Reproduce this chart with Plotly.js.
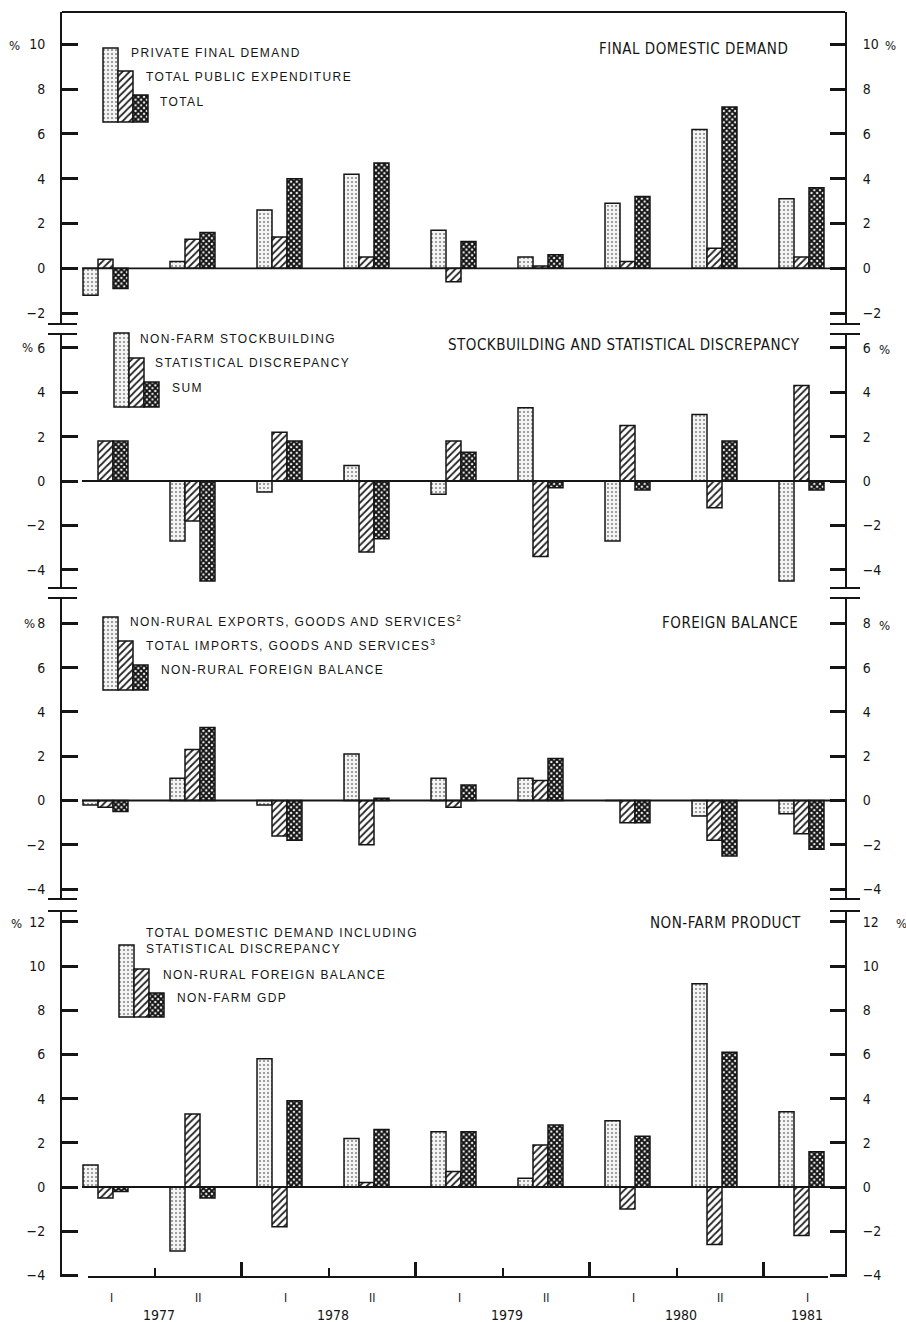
<!DOCTYPE html>
<html>
<head>
<meta charset="utf-8">
<script src="https://cdn.plot.ly/plotly-3.0.1.min.js"></script>
<style>
  html, body { margin: 0; padding: 0; background: #fff; }
  #chart { width: 906px; height: 1322px; }
</style>
</head>
<body>
<div id="chart"></div>
<script>
// ---------------- DATA ----------------
const halfLabels = ["I", "II", "I", "II", "I", "II", "I", "II", "I"];
const yearLabels = ["1977", "1978", "1979", "1980", "1981"];

const panelTitles = [
  "FINAL DOMESTIC DEMAND",
  "STOCKBUILDING AND STATISTICAL DISCREPANCY",
  "FOREIGN BALANCE",
  "NON-FARM PRODUCT"
];

// Panel 1: Final domestic demand
const p1Names = ["PRIVATE FINAL DEMAND", "TOTAL PUBLIC EXPENDITURE", "TOTAL"];
const privateFinalDemand     = [-1.2, 0.3, 2.6, 4.2, 1.7, 0.5, 2.9, 6.2, 3.1];
const totalPublicExpenditure = [0.4, 1.3, 1.4, 0.5, -0.6, 0.1, 0.3, 0.9, 0.5];
const totalFinalDemand       = [-0.9, 1.6, 4.0, 4.7, 1.2, 0.6, 3.2, 7.2, 3.6];

// Panel 2: Stockbuilding and statistical discrepancy
const p2Names = ["NON-FARM STOCKBUILDING", "STATISTICAL DISCREPANCY", "SUM"];
const nonFarmStockbuilding   = [0, -2.7, -0.5, 0.7, -0.6, 3.3, -2.7, 3.0, -4.5];
const statisticalDiscrepancy = [1.8, -1.8, 2.2, -3.2, 1.8, -3.4, 2.5, -1.2, 4.3];
const stockSum               = [1.8, -4.5, 1.8, -2.6, 1.3, -0.3, -0.4, 1.8, -0.4];

// Panel 3: Foreign balance
const p3Names = ["NON-RURAL EXPORTS, GOODS AND SERVICES<sup>2</sup>",
                 "TOTAL IMPORTS, GOODS AND SERVICES<sup>3</sup>",
                 "NON-RURAL FOREIGN BALANCE"];
const nonRuralExports        = [-0.2, 1.0, -0.2, 2.1, 1.0, 1.0, 0, -0.7, -0.6];
const totalImports           = [-0.3, 2.3, -1.6, -2.0, -0.3, 0.9, -1.0, -1.8, -1.5];
const nonRuralForeignBalance = [-0.5, 3.3, -1.8, 0.1, 0.7, 1.9, -1.0, -2.5, -2.2];

// Panel 4: Non-farm product
const p4Names = ["TOTAL DOMESTIC DEMAND INCLUDING<br>STATISTICAL DISCREPANCY",
                 "NON-RURAL FOREIGN BALANCE", "NON-FARM GDP"];
const totalDomesticDemand    = [1.0, -2.9, 5.8, 2.2, 2.5, 0.4, 3.0, 9.2, 3.4];
const foreignBalanceNFP      = [-0.5, 3.3, -1.8, 0.2, 0.7, 1.9, -1.0, -2.6, -2.2];
const nonFarmGDP             = [-0.2, -0.5, 3.9, 2.6, 2.5, 2.8, 2.3, 6.1, 1.6];

// ---------------- LAYOUT GEOMETRY (pixels) ----------------
const W = 906, H = 1322;
const M = { l: 62, r: 61, t: 12, b: 45 };
const PW = W - M.l - M.r;          // 783
const PH = H - M.t - M.b;          // 1265
const BOTTOM = H - M.b;            // 1277
const pxX = x => (x - M.l) / PW;   // pixel -> paper
const pxY = y => (BOTTOM - y) / PH;

const panelGeom = [
  { top: 12,  bottom: 324,  zero: 268.3, unit: 22.4  },
  { top: 334, bottom: 588,  zero: 481,   unit: 22.2  },
  { top: 598, bottom: 899,  zero: 800.5, unit: 22.15 },
  { top: 911, bottom: 1277, zero: 1187,  unit: 22.1  }
];
const titlePos = [[790, 49], [802, 345], [800, 623], [803, 923]];
const pctLeft  = [[14, 46], [27, 347], [29, 623], [16, 923]];
const pctRight = [[890, 46], [884, 349], [884, 625], [901, 923]];
const swatchPos = [ // left x, tops of three swatches, bottom
  { x: 103, tops: [48, 71, 95],     bottom: 122 },
  { x: 114, tops: [333, 358, 382],  bottom: 407 },
  { x: 103, tops: [617, 641, 665],  bottom: 690 },
  { x: 119, tops: [945, 969, 993],  bottom: 1017 }
];
const legendTextPos = [
  [[129, 53], [144, 77], [158, 102]],
  [[138, 339], [153, 363], [170, 388]],
  [[128, 621], [144, 645], [159, 670]],
  [[144, 941], [161, 975], [175, 998]]
];
const SW = 15;

const panels = [
  { names: p1Names, series: [privateFinalDemand, totalPublicExpenditure, totalFinalDemand] },
  { names: p2Names, series: [nonFarmStockbuilding, statisticalDiscrepancy, stockSum] },
  { names: p3Names, series: [nonRuralExports, totalImports, nonRuralForeignBalance] },
  { names: p4Names, series: [totalDomesticDemand, foreignBalanceNFP, nonFarmGDP] }
];

// ---------------- STYLES ----------------
const INK = "#151515";
const NARROW = "Liberation Sans Narrow, DejaVu Sans Condensed, Arial Narrow, sans-serif";
const SANS = "Liberation Sans, Arial, Helvetica, sans-serif";
const patterns = [
  { shape: ".", fgcolor: "#8a8a8a", bgcolor: "#f4f4f4", size: 4, solidity: 0.22, fillmode: "replace" },
  { shape: "/", fgcolor: "#222", bgcolor: "#fff", size: 5, solidity: 0.35, fillmode: "replace" },
  { shape: "x", fgcolor: "#111", bgcolor: "#fff", size: 4, solidity: 0.72, fillmode: "replace" }
];
const outline = { color: INK, width: 1.5 };

const xIdx = halfLabels.map((_, i) => i);
const traces = [];
const layout = {
  width: W, height: H,
  margin: M,
  paper_bgcolor: "#fff",
  plot_bgcolor: "rgba(0,0,0,0)",
  showlegend: false,
  barmode: "group",
  bargap: 0.483,
  bargroupgap: 0,
  hovermode: false,
  font: { family: NARROW, color: INK, size: 13 },
  annotations: [],
  shapes: []
};

const SHIFT = 0.065; // printed axis offset relative to bar groups

layout.xaxis = {
  domain: [0, 1], anchor: "y4", range: [-0.5, 8.5],
  showgrid: false, zeroline: false, showline: false,
  showticklabels: false,
  ticks: "inside", tickmode: "array",
  tickvals: yearLabels.slice(0, -1).map((_, k) => 2 * k + 1.5 + SHIFT),
  ticklen: 15, tickwidth: 3, tickcolor: INK,
  minor: {
    ticks: "inside", tickmode: "array",
    tickvals: yearLabels.slice(0, -1).map((_, k) => 2 * k + 0.5 + SHIFT),
    ticklen: 9, tickwidth: 2, tickcolor: INK, showgrid: false
  }
};

panels.forEach((p, k) => {
  const g = panelGeom[k];
  const range = [-(g.bottom - g.zero) / g.unit, (g.zero - g.top) / g.unit];
  const domain = [pxY(g.bottom), pxY(g.top)];
  const yl = k === 0 ? "yaxis" : "yaxis" + (k + 1);
  const yr = "yaxis" + (k + 5);
  const yref = k === 0 ? "y" : "y" + (k + 1);
  const yrRef = "y" + (k + 5);
  layout[yl] = {
    domain, range, anchor: "x",
    showgrid: false, zeroline: false,
    showline: true, linewidth: 2, linecolor: INK,
    ticks: "inside", ticklen: 16, tickwidth: 3, tickcolor: INK,
    dtick: 2, tick0: 0, ticklabelstandoff: 12,
    tickfont: { family: NARROW, size: 14, color: INK }
  };
  layout[yr] = {
    overlaying: yref, side: "right", anchor: "x", range,
    showgrid: false, zeroline: false,
    showline: true, linewidth: 2, linecolor: INK,
    ticks: "inside", ticklen: 15, tickwidth: 3, tickcolor: INK,
    dtick: 2, tick0: 0, ticklabelstandoff: 13,
    tickfont: { family: NARROW, size: 14, color: INK }
  };
  p.series.forEach((vals, s) => {
    traces.push({
      type: "bar", x: xIdx, y: vals, xaxis: "x", yaxis: yref,
      marker: { color: "#fff", line: outline, pattern: patterns[s] },
      name: p.names[s]
    });
  });
  // empty helper trace so the right-hand axis is drawn
  traces.push({ type: "scatter", mode: "markers", x: [null], y: [null],
    xaxis: "x", yaxis: yrRef, showlegend: false });
  // zero line
  layout.shapes.push({ type: "line", xref: "paper", yref: yref,
    x0: pxX(82), x1: 1, y0: 0, y1: 0, line: { color: INK, width: 1.8 } });
  // axis break caps
  const capsY = [];
  if (k > 0) capsY.push(g.top);
  if (k < 3) capsY.push(g.bottom);
  capsY.forEach(yy => {
    layout.shapes.push({ type: "line", xref: "paper", yref: "paper",
      x0: pxX(M.l - 14), x1: pxX(M.l + 15), y0: pxY(yy), y1: pxY(yy),
      line: { color: INK, width: 2 } });
    layout.shapes.push({ type: "line", xref: "paper", yref: "paper",
      x0: pxX(W - M.r - 15), x1: pxX(W - M.r + 15), y0: pxY(yy), y1: pxY(yy),
      line: { color: INK, width: 2 } });
  });
  // panel title
  layout.annotations.push({
    xref: "paper", yref: "paper", x: pxX(titlePos[k][0]), y: pxY(titlePos[k][1]),
    xanchor: "right", yanchor: "middle", showarrow: false,
    text: '<span style="letter-spacing:0.5px">' + panelTitles[k] + "</span>",
    font: { family: NARROW, size: 15, color: INK }
  });
  // % signs
  [pctLeft[k], pctRight[k]].forEach(pp => {
    layout.annotations.push({
      xref: "paper", yref: "paper", x: pxX(pp[0]), y: pxY(pp[1]),
      xanchor: "center", yanchor: "middle", showarrow: false,
      text: "%", font: { family: NARROW, size: 13, color: INK }
    });
  });
  // legend text
  p.names.forEach((nm, s) => {
    const pos = legendTextPos[k][s];
    layout.annotations.push({
      xref: "paper", yref: "paper", x: pxX(pos[0]), y: pxY(pos[1]),
      xanchor: "left", yanchor: "middle", showarrow: false, align: "left",
      text: '<span style="letter-spacing:1.4px">' + nm + "</span>",
      font: { family: SANS, size: 12, color: INK }
    });
  });
});

// legend swatches: bars in a pixel-space helper subplot
layout.xaxis2 = { domain: [0, 1], anchor: "y9", range: [M.l, W - M.r], visible: false, fixedrange: true };
layout.yaxis9 = { domain: [0, 1], anchor: "x2", range: [BOTTOM, M.t], visible: false, fixedrange: true };
[0, 1, 2].forEach(s => {
  traces.push({
    type: "bar", xaxis: "x2", yaxis: "y9",
    x: swatchPos.map(sp => sp.x + s * SW),
    base: swatchPos.map(sp => sp.bottom),
    y: swatchPos.map(sp => sp.tops[s] - sp.bottom),
    width: SW, offset: 0,
    marker: { color: "#fff", line: outline, pattern: patterns[s] },
    showlegend: false
  });
});

// frame: top border and x-axis line
layout.shapes.push({ type: "line", xref: "paper", yref: "paper",
  x0: 0, x1: 1, y0: 1, y1: 1, line: { color: INK, width: 2 } });
layout.shapes.push({ type: "line", xref: "paper", yref: "paper",
  x0: pxX(88), x1: pxX(828), y0: 0, y1: 0, line: { color: INK, width: 2 } });

// x-axis labels
halfLabels.forEach((t, i) => {
  layout.annotations.push({
    xref: "x", yref: "paper", x: i + SHIFT, y: pxY(1298),
    xanchor: "center", yanchor: "middle", showarrow: false,
    text: t, font: { family: NARROW, size: 12, color: INK }
  });
});
yearLabels.forEach((t, k) => {
  const xv = k < yearLabels.length - 1 ? 2 * k + 0.5 + SHIFT + 0.05 : 2 * k + SHIFT;
  layout.annotations.push({
    xref: "x", yref: "paper", x: xv, y: pxY(1315),
    xanchor: "center", yanchor: "middle", showarrow: false,
    text: t, font: { family: NARROW, size: 14, color: INK }
  });
});

Plotly.newPlot("chart", traces, layout, { staticPlot: true, displayModeBar: false });
</script>
</body>
</html>
